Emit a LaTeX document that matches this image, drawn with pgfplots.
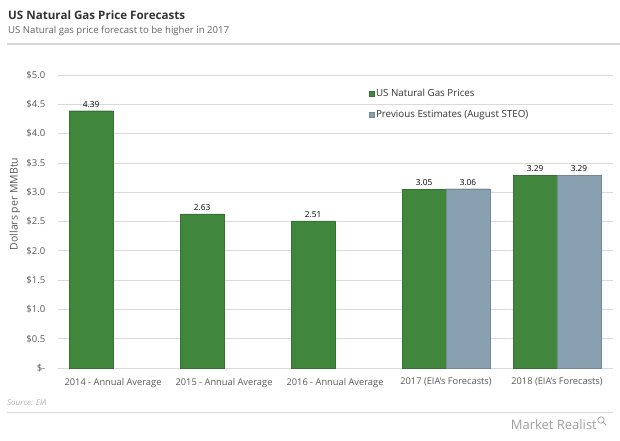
\documentclass[border=0pt]{standalone}
\usepackage{fontspec}
\setmainfont{Open Sans}
\usepackage{pgfplots}
\pgfplotsset{compat=1.18}
\definecolor{gasgreen}{RGB}{64,134,60}
\definecolor{estgrey}{RGB}{137,160,176}
\definecolor{titlegray}{RGB}{51,51,51}
\definecolor{subgray}{RGB}{100,100,100}
\definecolor{tickgray}{RGB}{90,90,90}
\definecolor{gridgray}{RGB}{217,217,217}
\begin{document}
\begin{tikzpicture}[x=1pt,y=1pt]
\useasboundingbox (0,0) rectangle (620,440);
\fill[white] (0,0) rectangle (620,440);
\node[anchor=base west, inner sep=0, font=\bfseries\fontsize{11.6}{13}\selectfont, text=titlegray] at (8,420) {US Natural Gas Price Forecasts};
\node[anchor=base west, inner sep=0, font=\fontsize{9.6}{11}\selectfont, text=subgray] at (8,406) {US Natural gas price forecast to be higher in 2017};
\draw[gridgray, line width=1.6pt] (7,396) -- (620,396);
\node[rotate=90, inner sep=0, font=\fontsize{10.5}{12}\selectfont, text=tickgray] at (15,236) {Dollars per MMBtu};
\begin{axis}[
  at={(57.5pt,72pt)}, anchor=south west,
  width=555pt, height=293pt, scale only axis,
  axis line style={draw=none},
  /pgf/number format/assume math mode=true,
  ymin=0, ymax=5, xmin=-0.5, xmax=4.5,
  ytick={0,0.5,1,1.5,2,2.5,3,3.5,4,4.5,5},
  yticklabels={\$-,\$0.5,\$1.0,\$1.5,\$2.0,\$2.5,\$3.0,\$3.5,\$4.0,\$4.5,\$5.0},
  xtick={0,1,2,3,4},
  xticklabels={2014 - Annual Average,2015 - Annual Average,2016 - Annual Average,2017 (EIA's Forecasts),2018 (EIA's Forecasts)},
  ymajorgrids, grid style={gridgray, line width=0.8pt},
  major tick length=0pt, tick style={draw=none},
  yticklabel style={anchor=east, inner sep=0, xshift=-12pt, font=\fontsize{9.5}{11}\selectfont, text=tickgray},
  xticklabel style={anchor=north, inner sep=0, yshift=-10pt, font=\fontsize{9.3}{11}\selectfont, text=tickgray},
  ybar=0pt, bar width=0.396,
  nodes near coords,
  nodes near coords style={font=\fontsize{8.3}{9}\selectfont, text=black, /pgf/number format/fixed, /pgf/number format/fixed zerofill, /pgf/number format/precision=2, /pgf/number format/assume math mode=true},
  legend style={at={(rel axis cs:0.560,0.958)}, anchor=north west, draw=none, fill=none,
    font=\fontsize{9.8}{11}\selectfont, text=titlegray, row sep=8pt, inner sep=0pt},
  legend cell align=left,
  legend image code/.code={\fill[#1] (0pt,-2.6pt) rectangle (5.2pt,2.6pt);},
]
\addplot[fill=gasgreen, draw=gasgreen!85!black, line width=0.3pt] coordinates {(0,4.39) (1,2.63) (2,2.51) (3,3.05) (4,3.29)};
\addlegendentry{US Natural Gas Prices}
\addplot[fill=estgrey, draw=estgrey!85!black, line width=0.3pt] coordinates {(3,3.06) (4,3.29)};
\addlegendentry{Previous Estimates (August STEO)}
\end{axis}
\node[anchor=base west, inner sep=0, font=\itshape\fontsize{8}{9}\selectfont, text=gray!60] at (7,35) {Source: EIA};
\draw[gridgray, line width=0.8pt] (7,28) -- (613,28);
\node[anchor=base east, inner sep=0, font=\fontsize{13}{14}\selectfont, text=gray!75] at (597,11) {Market Realist};
\draw[gray!75, line width=0.7pt] (601,20) circle (3.2pt);
\draw[gray!75, line width=0.9pt] (603.3,17.7) -- (606,15);
\end{tikzpicture}
\end{document}
